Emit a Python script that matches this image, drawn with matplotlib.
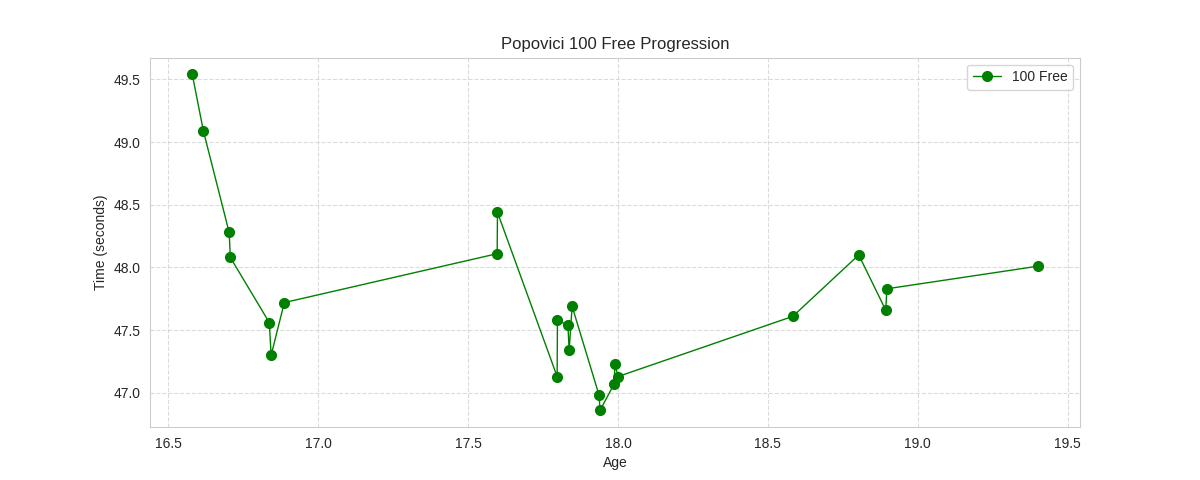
import matplotlib
matplotlib.use('Agg')
import matplotlib.pyplot as plt
import seaborn as sns

# Age at each swim and the 100 free time (seconds)
ages = [16.58, 16.617, 16.703, 16.707, 16.837, 16.843, 16.887,
        17.597, 17.598, 17.797, 17.798, 17.833, 17.837, 17.847,
        17.937, 17.94, 17.987, 17.99, 18.0,
        18.583, 18.803, 18.893, 18.897, 19.40]
times = [49.54, 49.09, 48.28, 48.08, 47.56, 47.30, 47.72,
         48.11, 48.44, 47.13, 47.58, 47.54, 47.34, 47.69,
         46.98, 46.86, 47.07, 47.23, 47.13,
         47.61, 48.10, 47.66, 47.83, 48.01]

sns.set_style('whitegrid')
plt.rcParams['font.family'] = ['Arial', 'Liberation Sans', 'DejaVu Sans']

fig, ax = plt.subplots(figsize=(12, 4.8), dpi=100)
ax.plot(ages, times, marker='o', color='green', linewidth=1.0, markersize=7, label='100 Free')

ax.set_title('Popovici 100 Free Progression')
ax.set_xlabel('Age')
ax.set_ylabel('Time (seconds)')
ax.grid(True, linestyle='--', alpha=0.7)
ax.legend()

fig.savefig('out.png')
